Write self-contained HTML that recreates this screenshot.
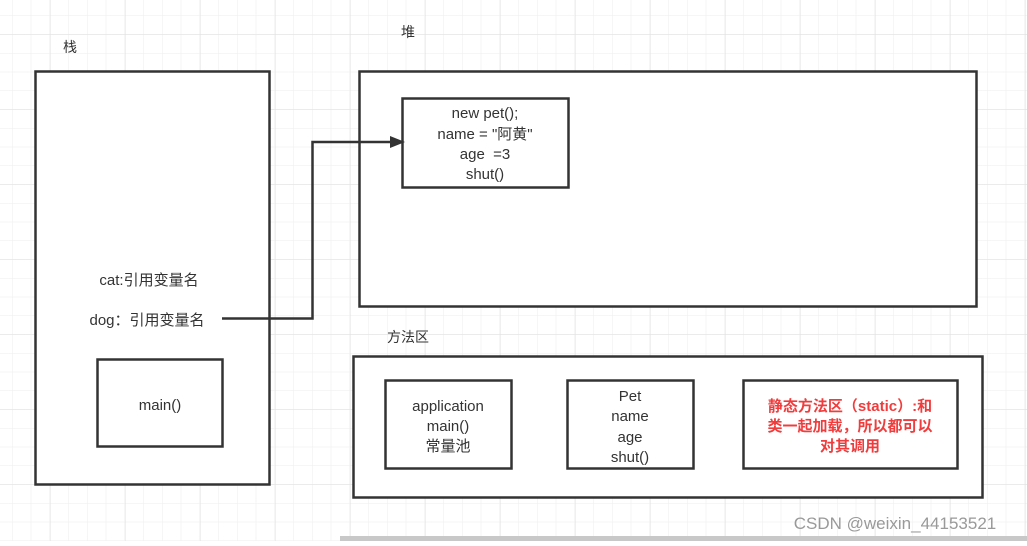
<!DOCTYPE html>
<html><head><meta charset="utf-8"><style>
html,body{margin:0;padding:0;background:#fff}
svg text{font-family:"Liberation Sans","Noto Sans CJK SC",sans-serif}
</style></head><body>
<svg width="1027" height="541" xmlns="http://www.w3.org/2000/svg">
<defs>
<pattern id="g" width="18.75" height="18.75" patternUnits="userSpaceOnUse" x="12" y="15.5">
<path d="M0 0H18.75M0 0V18.75" stroke="#ededed" stroke-width="1" fill="none"/>
</pattern>
<pattern id="G" width="75" height="75" patternUnits="userSpaceOnUse" x="50" y="34">
<path d="M0 0H75M0 0V75" stroke="#e0e0e0" stroke-width="1" fill="none"/>
</pattern>
</defs>
<rect width="1027" height="541" fill="url(#g)"/>
<rect width="1027" height="541" fill="url(#G)"/>
<g stroke="#333" stroke-width="2.5" fill="#fff">
<rect x="35.5" y="71.5" width="234" height="413"/>
<rect x="359.5" y="71.5" width="617" height="235"/>
<rect x="402.5" y="98.5" width="166" height="89"/>
<rect x="97.5" y="359.5" width="125" height="87"/>
<rect x="353.5" y="356.5" width="629" height="141"/>
<rect x="385.5" y="380.5" width="126" height="88"/>
<rect x="567.5" y="380.5" width="126" height="88"/>
<rect x="743.5" y="380.5" width="214" height="88"/>
</g>
<path d="M222 318.5H312.5V142H395" stroke="#333" stroke-width="2.5" fill="none"/>
<path d="M390 136L405 142L390 148Z" fill="#333"/>
<g font-size="15" fill="#333" text-anchor="middle">
<text x="70" y="52" font-size="14">栈</text>
<text x="408" y="37" font-size="14">堆</text>
<text x="408" y="342" font-size="14">方法区</text>
<text x="485" y="118">new pet();</text>
<text x="485" y="139">name = "阿黄"</text>
<text x="485" y="159">age&#160; =3</text>
<text x="485" y="179">shut()</text>
<text x="149" y="285">cat:引用变量名</text>
<text x="147" y="325">dog：引用变量名</text>
<text x="160" y="410">main()</text>
<text x="448" y="411">application</text>
<text x="448" y="431">main()</text>
<text x="448" y="451">常量池</text>
<text x="630" y="401">Pet</text>
<text x="630" y="421">name</text>
<text x="630" y="442">age</text>
<text x="630" y="462">shut()</text>
</g>
<g font-size="15" fill="#f03c3c" font-weight="bold" text-anchor="middle">
<text x="850" y="411">静态方法区（static）:和</text>
<text x="850" y="431">类一起加载，所以都可以</text>
<text x="850" y="451">对其调用</text>
</g>
<text x="895" y="529" font-size="17" fill="#999" text-anchor="middle">CSDN @weixin_44153521</text>
<rect x="340" y="536" width="687" height="5" fill="#c8c8c8"/>
</svg>
</body></html>
